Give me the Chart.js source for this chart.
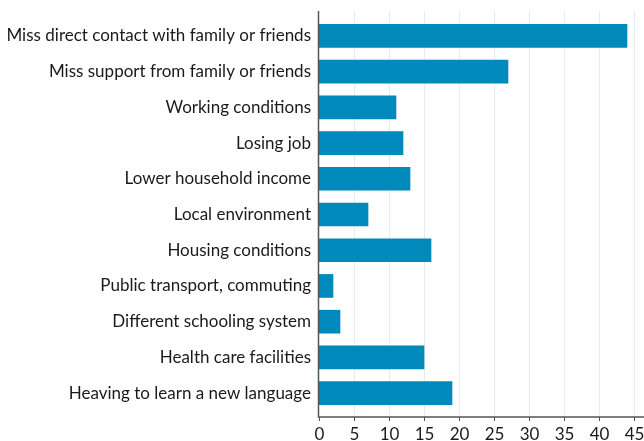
<!DOCTYPE html>
<html>
<head>
<meta charset="utf-8">
<script src="https://cdn.jsdelivr.net/npm/chart.js@4/dist/chart.umd.min.js"></script>
<style>
  html, body { margin: 0; padding: 0; background: #fff; }
  #wrap { width: 644px; height: 441px; position: relative; }
</style>
</head>
<body>
<div id="wrap"><canvas id="canvas"></canvas></div>
<script>
// data
var categories = [
    'Miss direct contact with family or friends',
    'Miss support from family or friends',
    'Working conditions',
    'Losing job',
    'Lower household income',
    'Local environment',
    'Housing conditions',
    'Public transport, commuting',
    'Different schooling system',
    'Health care facilities',
    'Heaving to learn a new language'
];
var values = [44, 27, 11, 12, 13, 7, 16, 2, 3, 15, 19];
var xTicks = [0, 5, 10, 15, 20, 25, 30, 35, 40, 45];

var FONT = 'Lato';
var AXIS_TOP = 11;
var AXIS_BOTTOM = 417;

// gridlines, axis lines and x tick labels (they run a bit past the plot area)
var axesPlugin = {
    id: 'axesPlugin',
    beforeDatasetsDraw: function(chart){
        var c = chart.ctx;
        var xs = chart.scales.x;
        c.save();
        c.lineWidth = 1;
        c.strokeStyle = '#e4ecf0';
        for(var i = 1; i < xTicks.length; i++){
            var px = Math.round(xs.getPixelForValue(xTicks[i])) + 0.5;
            c.beginPath();
            c.moveTo(px, AXIS_TOP);
            c.lineTo(px, AXIS_BOTTOM);
            c.stroke();
        }
        c.restore();
    },
    afterDatasetsDraw: function(chart){
        var c = chart.ctx;
        var xs = chart.scales.x;
        var x0 = Math.round(xs.getPixelForValue(0)) - 0.5;
        c.save();
        c.strokeStyle = '#555';
        c.lineWidth = 1.5;
        c.beginPath();
        c.moveTo(x0, AXIS_TOP);
        c.lineTo(x0, AXIS_BOTTOM);
        c.lineTo(chart.width, AXIS_BOTTOM);
        c.stroke();
        c.lineWidth = 1;
        c.fillStyle = '#1a1a1a';
        c.font = '17px ' + FONT;
        c.textAlign = 'center';
        c.textBaseline = 'middle';
        for(var i = 0; i < xTicks.length; i++){
            var px = Math.round(xs.getPixelForValue(xTicks[i])) + 0.5;
            c.beginPath();
            c.moveTo(px, AXIS_BOTTOM);
            c.lineTo(px, AXIS_BOTTOM + 4);
            c.stroke();
            c.fillText(String(xTicks[i]), px, 435);
        }
        c.restore();
    }
};

var config = {
    type: 'bar',
    data: {
        labels: categories,
        datasets: [{
            data: values,
            backgroundColor: '#0089bb',
            borderWidth: 0,
            barThickness: 23
        }]
    },
    options: {
        indexAxis: 'y',
        responsive: true,
        maintainAspectRatio: false,
        animation: false,
        layout: { padding: { top: 18, right: 10, left: 0, bottom: 0 } },
        plugins: {
            legend: { display: false },
            tooltip: { enabled: false }
        },
        scales: {
            x: {
                min: 0,
                max: 45,
                ticks: { display: false, stepSize: 5 },
                grid: { display: false },
                border: { display: false },
                afterFit: function(s){ s.height = 30; }
            },
            y: {
                ticks: {
                    color: '#1a1a1a',
                    padding: 0,
                    font: { family: FONT, size: 17 }
                },
                grid: { display: false },
                border: { display: false },
                afterFit: function(s){ s.width = 319; }
            }
        }
    },
    plugins: [axesPlugin]
};

var ctx = document.getElementById('canvas').getContext('2d');
var chart = new Chart(ctx, config);
</script>
</body>
</html>
